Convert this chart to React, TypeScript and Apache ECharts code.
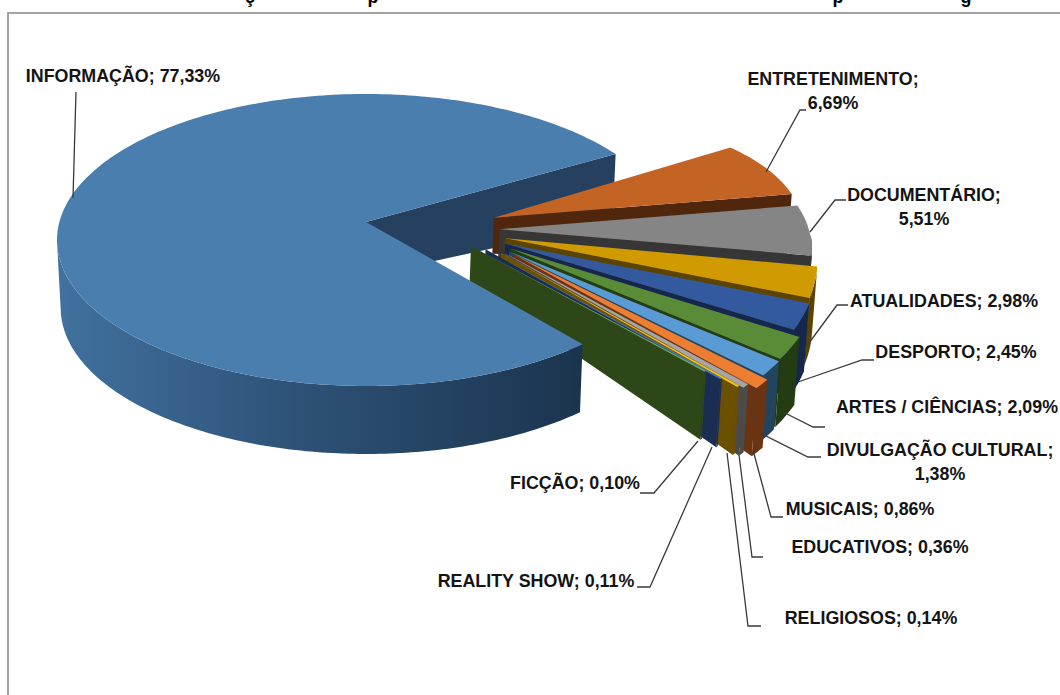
import React, { useEffect, useRef } from "react";
import * as echarts from "echarts";

// ---- data ----
const categories = ["INFORMAÇÃO", "ENTRETENIMENTO", "DOCUMENTÁRIO", "ATUALIDADES", "DESPORTO", "ARTES / CIÊNCIAS", "DIVULGAÇÃO CULTURAL", "MUSICAIS", "EDUCATIVOS", "RELIGIOSOS", "REALITY SHOW", "FICÇÃO"];
const shares = [77.33, 6.69, 5.51, 2.98, 2.45, 2.09, 1.38, 0.86, 0.36, 0.14, 0.11, 0.1];

// ---- styling ----
const topColors = ["#4a7eaf", "#c46424", "#858585", "#cf9b00", "#335a9e", "#5a8c38", "#5b9bd5", "#ed7d31", "#a5a5a5", "#ffc000", "#4472c4", "#70ad47"];
const wallColors = ["#264060", "#50260c", "#363636", "#5c4400", "#15274f", "#243c14", "#23445f", "#6a3412", "#4b4b4b", "#6b5000", "#1a2e54", "#2d4719"];
const explosion = [0, 0.92, 0.96, 1, 1, 1.04, 1.03, 1.06, 1.0, 0.97, 0.86, 0.755];

const START_DEG = -45.5;
const CX = 366, CY = 222, RX = 309, RY = 146, RIM_DROP = 18;
const DEPTH_RIM = 68, DEPTH_APEX = 36, DEPTH_APEX_MAIN = 54;
const FONT = "'Liberation Sans', Arial, sans-serif";

const total = shares.reduce((a, b) => a + b, 0);
let cursor = START_DEG;
const seriesData = shares.map((v) => {
  const from = cursor;
  cursor -= (v / total) * 360;
  return [v, from, cursor];
});

const rad = (d: number) => (d * Math.PI) / 180;
const drop = (p: number[], depth: number) => [p[0] - (p[0] - CX) * 0.012, p[1] + depth];

function apexOf(i: number, mid: number) {
  const k = explosion[i];
  return [CX + k * 139, CY + k * (8.7 - 32.7 * Math.sin(rad(mid)))];
}

function renderSlice(params: any, api: any) {
  const i = params.dataIndex;
  const from = api.value(1) as number;
  const to = api.value(2) as number;
  const main = i === 0;
  const apex = main ? [CX, CY] : apexOf(i, (from + to) / 2);
  const k = explosion[i];
  const rim = (d: number) => {
    const t = rad(d);
    const s = Math.sin(t);
    if (main) return [apex[0] + RX * Math.cos(t), apex[1] + RIM_DROP - RY * s];
    // exploded slices sit nearer the viewer: the perspective widens them toward the front
    const dy = 6.7 - 154.5 * s + 41 * s * s - (s < 0 ? (1 - k) * 50 : 0);
    return [apex[0] + 311 * Math.cos(t) * (1 - 0.1 * s), apex[1] + dy];
  };
  const steps = Math.max(2, Math.ceil(from - to));
  const arc: number[][] = [];
  for (let s = 0; s <= steps; s++) arc.push(rim(from + ((to - from) * s) / steps));
  const apexDepth = main ? DEPTH_APEX_MAIN : DEPTH_APEX;
  const children: any[] = [];
  const cutEnd = arc[arc.length - 1];
  children.push({
    type: "polygon",
    z2: main ? 0 : 10 + i * 3,
    shape: { points: [apex, cutEnd, drop(cutEnd, DEPTH_RIM), drop(apex, apexDepth)] },
    style: { fill: wallColors[i] },
  });
  // rim wall, only on the front half of the disc
  const front = arc.filter((_, s) => {
    const d = from + ((to - from) * s) / steps;
    return Math.sin(rad(d)) <= 0.001;
  });
  if (front.length > 1) {
    const fill = main
      ? new echarts.graphic.LinearGradient(0, 0, 1, 0, [
          { offset: 0, color: "#41719f" },
          { offset: 0.45, color: "#2e5277" },
          { offset: 1, color: "#1b344e" },
        ])
      : wallColors[i];
    children.push({
      type: "polygon",
      z2: main ? 100 : 11 + i * 3,
      shape: { points: [...front, ...[...front].reverse().map((p) => drop(p, DEPTH_RIM))] },
      style: { fill },
    });
  }
  children.push({
    type: "polygon",
    z2: main ? 101 : 12 + i * 3,
    shape: { points: [apex, ...arc] },
    style: { fill: topColors[i] },
  });
  return { type: "group", children };
}

const fmt = (v: number) => v.toFixed(2).replace(".", ",");
const oneLine = (i: number) => `${categories[i]}; ${fmt(shares[i])}%`;
const twoLines = (i: number) => `${categories[i]};\n${fmt(shares[i])}%`;

// label anchors (centre x, centre y of the block) and leader paths
const labelBoxes: [number, number, boolean][] = [
  [123, 75, false], [833, 90, true], [924, 206, true], [944, 300, false], [956, 351, false], [947, 406, false],
  [940, 461, true], [860, 508, false], [880, 546, false], [871, 617, false], [536, 580, false], [575, 482, false],
];
const leaders: number[][][] = [
  [[73, 198], [76, 92]],
  [[766, 172], [800, 110], [806, 110]],
  [[810, 232], [835, 200], [846, 200]],
  [[806, 347], [837, 305], [848, 305]],
  [[798, 382], [862, 360], [874, 360]],
  [[783, 412], [813, 427], [825, 427]],
  [[760, 433], [808, 457], [821, 457]],
  [[753, 450], [771, 517], [783, 517]],
  [[739, 455], [752, 557], [763, 557]],
  [[727, 453], [748, 626], [761, 626]],
  [[712, 447], [650, 587], [637, 587]],
  [[698, 441], [654, 493], [640, 493]],
];
// the only parts of the cropped heading that can be read: descending letters along the top edge
const headingFragments: [string, number][] = [["ç", 250], ["p", 373], ["p", 838], ["g", 966]];

export default function App() {
  const ref = useRef<HTMLDivElement>(null);
  useEffect(() => {
    if (!ref.current) return;
    const chart = echarts.init(ref.current, undefined, { renderer: "svg" });
    const graphics: any[] = [
      {
        type: "polyline",
        shape: { points: [[8, 695], [8, 13], [1060, 13]] },
        style: { stroke: "#a3a3a3", lineWidth: 2, fill: "none" },
        silent: true,
      },
    ];
    headingFragments.forEach(([t, x]) =>
      graphics.push({
        type: "text", x, y: 6, scaleX: 0.94, silent: true,
        style: { text: t, font: `bold 19px ${FONT}`, fill: "#000", align: "center", verticalAlign: "bottom" },
      })
    );
    leaders.forEach((pts) =>
      graphics.push({
        type: "polyline", shape: { points: pts }, silent: true, z: 5,
        style: { stroke: "#3a3a3a", lineWidth: 1.3, fill: "none" },
      })
    );
    labelBoxes.forEach(([x, y, two], i) =>
      graphics.push({
        type: "text", x, y, scaleX: 0.94, silent: true, z: 6,
        style: {
          text: two ? twoLines(i) : oneLine(i),
          font: `bold 19px ${FONT}`,
          lineHeight: 24,
          fill: "#141414",
          align: "center",
          verticalAlign: "middle",
        },
      })
    );
    chart.setOption({
      animation: false,
      backgroundColor: "#ffffff",
      graphic: { elements: graphics },
      series: [
        {
          type: "custom",
          coordinateSystem: "none",
          renderItem: renderSlice,
          data: seriesData,
          silent: true,
        },
      ],
    });
    return () => chart.dispose();
  }, []);
  return <div ref={ref} style={{ position: "fixed", left: 0, top: 0, width: 1060, height: 695 }} />;
}
